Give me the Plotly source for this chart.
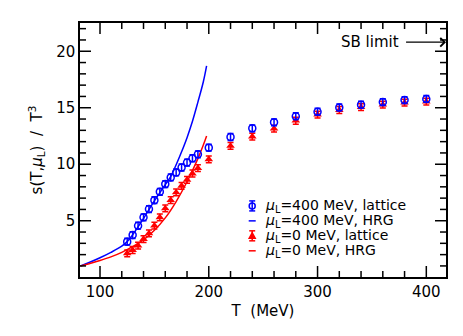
import plotly.graph_objects as go

# ---- data ----
T_lat = [125, 130, 135, 140, 145, 150, 155, 160, 165, 170, 175, 180, 185, 190,
         200, 220, 240, 260, 280, 300, 320, 340, 360, 380, 400]
s_mu400_lat = [3.15, 3.73, 4.56, 5.30, 6.03, 6.82, 7.56, 8.24, 8.83, 9.27, 9.71, 10.15, 10.53, 10.88,
               11.47, 12.41, 13.18, 13.71, 14.25, 14.65, 15.03, 15.27, 15.50, 15.68, 15.78]
err_mu400_lat = [0.3] * 25
s_mu0_lat = [2.12, 2.41, 2.80, 3.38, 3.88, 4.56, 5.30, 6.09, 6.82, 7.50, 8.09, 8.62, 9.18, 9.65,
             10.44, 11.62, 12.45, 13.15, 13.85, 14.40, 14.80, 15.05, 15.27, 15.45, 15.55]
err_mu0_lat = [0.3] * 25

T_hrg400 = [82, 90, 100, 110, 120, 125, 130, 140, 150, 160, 165, 170, 175, 180, 185, 190, 195, 198]
s_hrg400 = [1.0, 1.3, 1.72, 2.2, 2.75, 3.15, 3.75, 5.2, 6.75, 8.2, 8.9, 9.95, 11.1, 12.35, 13.8, 15.5, 17.3, 18.7]
T_hrg0 = [82, 90, 100, 110, 120, 130, 140, 150, 160, 170, 180, 190, 195, 198]
s_hrg0 = [1.0, 1.2, 1.48, 1.8, 2.2, 2.7, 3.3, 4.15, 5.25, 6.7, 8.45, 10.5, 11.7, 12.5]

SB_limit = 20.8

x_range = [81.6, 418.1]
y_range = [0.02, 22.5]
x_major = [100, 200, 300, 400]
x_minor = [t for t in range(100, 420, 20) if t not in x_major]
y_major = [5, 10, 15, 20]
y_minor = [v for v in range(1, 23) if v not in y_major]

legend_labels = ["<i>μ</i><sub>L</sub>=400 MeV, lattice",
                 "<i>μ</i><sub>L</sub>=400 MeV, HRG",
                 "<i>μ</i><sub>L</sub>=0 MeV, lattice",
                 "<i>μ</i><sub>L</sub>=0 MeV, HRG"]

BLUE = "#0000ff"
RED = "#ff0000"
FONT = "DejaVu Sans, Liberation Sans, sans-serif"
MAJ_LEN, MIN_LEN, TW = 11, 6, 1.5

fig = go.Figure()

fig.add_trace(go.Scatter(
    x=T_hrg400, y=s_hrg400, mode="lines", line=dict(color=BLUE, width=1.5, shape="spline"),
    name=legend_labels[1], showlegend=False))
fig.add_trace(go.Scatter(
    x=T_hrg0, y=s_hrg0, mode="lines", line=dict(color=RED, width=1.5, shape="spline"),
    name=legend_labels[3], showlegend=False))
fig.add_trace(go.Scatter(
    x=T_lat, y=s_mu0_lat, mode="markers",
    marker=dict(symbol="triangle-up", size=7.5, color=RED),
    error_y=dict(type="data", array=err_mu0_lat, color=RED, thickness=1.5, width=3),
    name=legend_labels[2], showlegend=False))
fig.add_trace(go.Scatter(
    x=T_lat, y=s_mu400_lat, mode="markers",
    marker=dict(symbol="circle-open", size=7, color=BLUE, line=dict(width=1.5, color=BLUE)),
    error_y=dict(type="data", array=err_mu400_lat, color=BLUE, thickness=1.5, width=3),
    name=legend_labels[0], showlegend=False))

shapes = []

# ---- tick marks on all four sides (inside), built from the tick lists ----
for vals, ln in ((x_major, MAJ_LEN), (x_minor, MIN_LEN)):
    for v in vals:
        for anchor, sgn in ((0, 1), (1, -1)):
            shapes.append(dict(type="line", xref="x", yref="paper", ysizemode="pixel", yanchor=anchor,
                               x0=v, x1=v, y0=0, y1=sgn * ln, line=dict(color="black", width=TW)))
for vals, ln in ((y_major, MAJ_LEN), (y_minor, MIN_LEN)):
    for v in vals:
        for anchor, sgn in ((0, 1), (1, -1)):
            shapes.append(dict(type="line", xref="paper", yref="y", xsizemode="pixel", xanchor=anchor,
                               y0=v, y1=v, x0=0, x1=sgn * ln, line=dict(color="black", width=TW)))

# ---- compact legend (keys as shapes, labels as text) ----
leg_x_key = 0.4705
leg_x_txt = 0.500
leg_rows = [0.2799, 0.2210, 0.1621, 0.1031]
def pix_shape(kind, x0, y0, x1, y1, color, row, fill=None, path=None):
    d = dict(type=kind, xref="paper", yref="paper", xsizemode="pixel", ysizemode="pixel",
             xanchor=leg_x_key, yanchor=leg_rows[row], line=dict(color=color, width=1.5))
    if path:
        d["path"] = path
    else:
        d.update(x0=x0, y0=y0, x1=x1, y1=y1)
    if fill:
        d["fillcolor"] = fill
    return d

shapes.append(pix_shape("circle", -3, -3, 3, 3, BLUE, 0))
shapes.append(pix_shape("line", 0, -5, 0, 5, BLUE, 0))
shapes.append(pix_shape("line", -3, 5, 3, 5, BLUE, 0))
shapes.append(pix_shape("line", -3, -5, 3, -5, BLUE, 0))
shapes.append(pix_shape("line", -3.5, 0, 3.5, 0, BLUE, 1))
shapes.append(pix_shape("path", 0, 0, 0, 0, RED, 2, fill=RED, path="M-3,-2.5 L3,-2.5 L0,3 Z"))
shapes.append(pix_shape("line", 0, -5, 0, 5, RED, 2))
shapes.append(pix_shape("line", -3, 5, 3, 5, RED, 2))
shapes.append(pix_shape("line", -3, -5, 3, -5, RED, 2))
shapes.append(pix_shape("line", -3.5, 0, 3.5, 0, RED, 3))

for lbl, yy in zip(legend_labels, leg_rows):
    fig.add_annotation(x=leg_x_txt, y=yy, xref="paper", yref="paper", text=lbl, showarrow=False,
                       xanchor="left", yanchor="middle", font=dict(size=14, family=FONT, color="black"))

# SB limit arrow and label
fig.add_annotation(x=x_range[1], y=SB_limit, ax=380, ay=SB_limit, xref="x", yref="y",
                   axref="x", ayref="y", text="", showarrow=True,
                   arrowhead=4, arrowsize=1.3, arrowwidth=1.3, arrowcolor="black", standoff=0)
fig.add_annotation(x=377, y=SB_limit, xref="x", yref="y", text="SB limit", showarrow=False,
                   xanchor="right", yanchor="middle", font=dict(size=15, family=FONT, color="black"))

tickfont = dict(size=15, family=FONT, color="black")
base = dict(showgrid=False, zeroline=False, automargin=False, ticks="", tickmode="array",
            showline=True, linecolor="black", linewidth=1.5, mirror=True, tickfont=tickfont)

fig.update_layout(
    width=463, height=336,
    margin=dict(l=72, r=25, t=15, b=67),
    paper_bgcolor="white", plot_bgcolor="white",
    font=dict(family=FONT, size=14, color="black"),
    showlegend=False,
    shapes=shapes,
    xaxis=dict(range=x_range, tickvals=x_major,
               title=dict(text="T&nbsp;&nbsp;(MeV)", font=dict(size=15, family=FONT, color="black"), standoff=6),
               **base),
    yaxis=dict(range=y_range, tickvals=y_major,
               title=dict(text="s(T,<i>μ</i><sub>L</sub>)&nbsp;&nbsp;/&nbsp;&nbsp;T<sup>3</sup>",
                          font=dict(size=15, family=FONT, color="black"), standoff=10),
               **base),
)

fig.write_html("out.html")
